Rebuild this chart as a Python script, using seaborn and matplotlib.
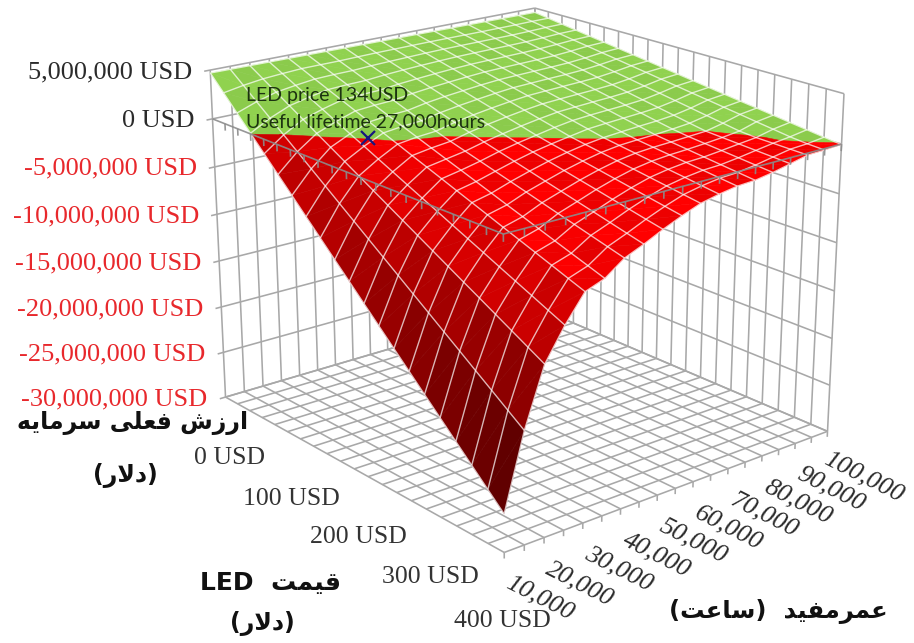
import numpy as np
import matplotlib
matplotlib.use("Agg")
import matplotlib.pyplot as plt
import seaborn as sns
from mpl_toolkits.mplot3d import proj3d
from mpl_toolkits.mplot3d.art3d import Poly3DCollection

# LED price grid (USD) and lifetime grid (hours)
led_price_usd = [0, 20, 40, 60, 80, 100, 120, 140, 160, 180, 200, 220, 240, 260, 280, 300, 320, 340, 360, 380, 400]
lifetime_hours = [10000, 15000, 20000, 25000, 30000, 35000, 40000, 45000, 50000, 55000,
                  60000, 65000, 70000, 75000, 80000, 85000, 90000, 95000, 100000]

# Present value (million USD) along the price grid, one list per lifetime
npv_10k = [4.70, 3.16, 1.61, 0.07, -1.48, -3.03, -4.57, -6.12, -7.66, -9.21, -10.75, -12.30, -13.84, -15.39, -16.93, -18.48, -20.02, -21.57, -23.11, -24.66, -26.20]
npv_15k = [4.69, 3.52, 2.34, 1.17, -0.01, -1.18, -2.36, -3.53, -4.71, -5.88, -7.06, -8.23, -9.40, -10.58, -11.75, -12.93, -14.10, -15.28, -16.45, -17.63, -18.80]
npv_20k = [4.68, 3.79, 2.90, 2.01, 1.12, 0.23, -0.65, -1.54, -2.43, -3.32, -4.21, -5.10, -5.99, -6.88, -7.77, -8.66, -9.54, -10.43, -11.32, -12.21, -13.10]
npv_25k = [4.67, 3.94, 3.20, 2.47, 1.74, 1.00, 0.27, -0.46, -1.20, -1.93, -2.67, -3.40, -4.13, -4.87, -5.60, -6.33, -7.07, -7.80, -8.53, -9.27, -10.00]
npv_30k = [4.66, 4.06, 3.45, 2.85, 2.25, 1.65, 1.04, 0.44, -0.16, -0.77, -1.37, -1.97, -2.58, -3.18, -3.78, -4.39, -4.99, -5.59, -6.19, -6.80, -7.40]
npv_35k = [4.65, 4.08, 3.52, 2.95, 2.38, 1.81, 1.25, 0.68, 0.11, -0.46, -1.03, -1.59, -2.16, -2.73, -3.30, -3.86, -4.43, -5.00, -5.57, -6.13, -6.70]
npv_40k = [4.64, 4.09, 3.55, 3.00, 2.46, 1.91, 1.36, 0.82, 0.27, -0.23, -0.69, -1.15, -1.61, -2.07, -2.53, -3.00, -3.46, -3.92, -4.38, -4.84, -5.30]
npv_45k = [4.63, 4.14, 3.66, 3.17, 2.68, 2.19, 1.71, 1.22, 0.73, 0.24, -0.21, -0.64, -1.07, -1.50, -1.93, -2.36, -2.79, -3.21, -3.64, -4.07, -4.50]
npv_50k = [4.62, 4.18, 3.73, 3.29, 2.84, 2.40, 1.96, 1.51, 1.07, 0.62, 0.18, -0.23, -0.60, -0.98, -1.35, -1.73, -2.10, -2.48, -2.85, -3.23, -3.60]
npv_55k = [4.61, 4.20, 3.79, 3.39, 2.98, 2.57, 2.16, 1.75, 1.35, 0.94, 0.53, 0.12, -0.23, -0.55, -0.87, -1.19, -1.51, -1.83, -2.16, -2.48, -2.80]
npv_60k = [4.60, 4.22, 3.85, 3.47, 3.10, 2.72, 2.35, 1.97, 1.60, 1.22, 0.84, 0.47, 0.09, -0.20, -0.47, -0.75, -1.02, -1.29, -1.56, -1.83, -2.10]
npv_65k = [4.59, 4.24, 3.89, 3.54, 3.19, 2.85, 2.50, 2.15, 1.80, 1.45, 1.10, 0.75, 0.40, 0.05, -0.21, -0.46, -0.71, -0.96, -1.20, -1.45, -1.70]
npv_70k = [4.58, 4.24, 3.91, 3.57, 3.23, 2.90, 2.56, 2.22, 1.89, 1.55, 1.21, 0.88, 0.54, 0.20, -0.09, -0.31, -0.53, -0.74, -0.96, -1.18, -1.40]
npv_75k = [4.57, 4.24, 3.92, 3.59, 3.26, 2.94, 2.61, 2.29, 1.96, 1.63, 1.31, 0.98, 0.65, 0.33, 0.00, -0.22, -0.43, -0.65, -0.87, -1.08, -1.30]
npv_80k = [4.56, 4.24, 3.93, 3.61, 3.29, 2.98, 2.66, 2.34, 2.03, 1.71, 1.39, 1.07, 0.76, 0.44, 0.13, -0.11, -0.29, -0.46, -0.64, -0.82, -1.00]
npv_85k = [4.55, 4.25, 3.94, 3.64, 3.34, 3.03, 2.73, 2.43, 2.12, 1.82, 1.52, 1.21, 0.91, 0.61, 0.30, 0.00, -0.12, -0.24, -0.36, -0.48, -0.60]
npv_90k = [4.54, 4.26, 3.98, 3.71, 3.43, 3.15, 2.87, 2.60, 2.32, 2.04, 1.76, 1.49, 1.21, 0.93, 0.65, 0.38, 0.10, -0.04, -0.09, -0.15, -0.20]
npv_95k = [4.53, 4.29, 4.04, 3.80, 3.55, 3.31, 3.06, 2.82, 2.57, 2.33, 2.08, 1.84, 1.59, 1.35, 1.10, 0.86, 0.61, 0.37, 0.12, -0.05, -0.15]
npv_100k = [4.52, 4.29, 4.06, 3.83, 3.60, 3.38, 3.15, 2.92, 2.69, 2.46, 2.23, 2.00, 1.77, 1.54, 1.31, 1.09, 0.86, 0.63, 0.40, 0.17, -0.05]

npv_ticks_musd = [5, 0, -5, -10, -15, -20, -25, -30]
npv_tick_labels = ["5,000,000 USD", "0 USD", "-5,000,000 USD", "-10,000,000 USD",
                   "-15,000,000 USD", "-20,000,000 USD", "-25,000,000 USD", "-30,000,000 USD"]
price_ticks = [0, 100, 200, 300, 400]
price_tick_labels = ["0 USD", "100 USD", "200 USD", "300 USD", "400 USD"]
lifetime_ticks = [10000, 20000, 30000, 40000, 50000, 60000, 70000, 80000, 90000, 100000]
lifetime_tick_labels = ["10,000", "20,000", "30,000", "40,000", "50,000",
                        "60,000", "70,000", "80,000", "90,000", "100,000"]
breakeven_price = 134
breakeven_life = 27000
breakeven_npv = 0


# Contextual letter forms (isolated, final, initial, medial); None marks a non-joining side
FORMS = {
    "ا": (0xFE8D, 0xFE8E, None, None), "د": (0xFEA9, 0xFEAA, None, None),
    "ر": (0xFEAD, 0xFEAE, None, None), "ز": (0xFEAF, 0xFEB0, None, None),
    "س": (0xFEB1, 0xFEB2, 0xFEB3, 0xFEB4), "ش": (0xFEB5, 0xFEB6, 0xFEB7, 0xFEB8),
    "ع": (0xFEC9, 0xFECA, 0xFECB, 0xFECC), "ف": (0xFED1, 0xFED2, 0xFED3, 0xFED4),
    "ق": (0xFED5, 0xFED6, 0xFED7, 0xFED8), "ل": (0xFEDD, 0xFEDE, 0xFEDF, 0xFEE0),
    "م": (0xFEE1, 0xFEE2, 0xFEE3, 0xFEE4), "ه": (0xFEE9, 0xFEEA, 0xFEEB, 0xFEEC),
    "ت": (0xFE95, 0xFE96, 0xFE97, 0xFE98), "ی": (0xFBFC, 0xFBFD, 0xFBFE, 0xFBFF),
}
MIRROR = {"(": ")", ")": "("}


def persian(text):
    """Shape Persian text and return it in display order for a left-to-right renderer."""
    out = []
    for i, ch in enumerate(text):
        if ch not in FORMS:
            out.append(MIRROR.get(ch, ch))
            continue
        prev = text[i - 1] if i else ""
        nxt = text[i + 1] if i + 1 < len(text) else ""
        join_prev = prev in FORMS and FORMS[prev][2] is not None
        join_next = nxt in FORMS and FORMS[ch][2] is not None
        iso, fin, ini, med = FORMS[ch]
        code = med if join_prev and join_next else fin if join_prev else ini if join_next else iso
        out.append(chr(code))
    shaped = "".join(out).replace("\uFEDF\uFE8E", "\uFEFB").replace("\uFEE0\uFE8E", "\uFEFC")
    return shaped[::-1]


def clip_triangle(tri, sign):
    """Keep the part of a triangle lying on one side of the zero-value plane."""
    kept = []
    for k in range(3):
        a, b = tri[k], tri[(k + 1) % 3]
        da, db = sign * a[2], sign * b[2]
        if da >= 0:
            kept.append(a)
        if da * db < 0:
            kept.append(a + (b - a) * da / (da - db))
    return kept


sns.set_theme(style="white")
SERIF = "Liberation Serif"
GRID = "#a8a8a8"

fig = plt.figure(figsize=(9.14, 6.43), dpi=100)
ax = fig.add_axes([164.22 / 914, 34.03 / 643, 695.07 / 914, 695.07 / 643], projection="3d")
ax.set_xlim(0, 400, view_margin=0)
ax.set_ylim(10000, 100000, view_margin=0)
ax.set_zlim(-30, 5, view_margin=0)
ax.view_init(elev=19.3641, azim=-39.5464)
ax.set_box_aspect((1.1787, 1.0738, 0.9))
ax.set_proj_type("persp", focal_length=0.6043)
ax.set_axis_off()
ax.computed_zorder = False

price = np.array(led_price_usd, float)
life = np.array(lifetime_hours, float)
npv = np.array([npv_10k, npv_15k, npv_20k, npv_25k, npv_30k, npv_35k, npv_40k, npv_45k, npv_50k, npv_55k,
                npv_60k, npv_65k, npv_70k, npv_75k, npv_80k, npv_85k, npv_90k, npv_95k, npv_100k]).T


def line3d(x, y, z, **kw):
    ax.plot(x, y, z, solid_capstyle="butt", **kw)


# Back walls and floor
wall = dict(color=GRID, lw=1.15, zorder=1)
for p in price:
    line3d([p, p], [life[0], life[-1]], [-30, -30], **wall)
    line3d([p, p], [life[-1], life[-1]], [-30, 5], **wall)
for h in life:
    line3d([0, 400], [h, h], [-30, -30], **wall)
    line3d([0, 0], [h, h], [-30, 5], **wall)
    line3d([400, 400], [h, h], [-30, -30.6], **wall)
for z in npv_ticks_musd:
    line3d([0, 0], [life[0] - 1500, life[-1]], [z, z], **wall)
    line3d([0, 400], [life[-1], life[-1]], [z, z], **wall)

# Surface facets: flat lighting per grid cell, split exactly along the zero contour
nr, nc = npv.shape
step_life = np.abs(np.diff(npv, axis=1))
step_price = np.abs(np.diff(npv, axis=0))
slope_life = (step_life[:-1, :] + step_life[1:, :]) / 2
slope_price = (step_price[:, :-1] + step_price[:, 1:]) / 2
light = np.clip(1.15 - 0.10 * slope_life - 0.16 * slope_price, 0, 1)
red_ramp = sns.blend_palette(["#3c0000", "#ff0000"], as_cmap=True)
green_ramp = sns.blend_palette(["#74ad3c", "#90d24f"], as_cmap=True)

polys, colors = [], []
for i in range(nr - 1):
    for j in range(nc - 1):
        corners = [np.array([price[a], life[b], npv[a, b]])
                   for a, b in ((i, j), (i + 1, j), (i + 1, j + 1), (i, j + 1))]
        check = (i + j) % 2
        red = red_ramp(light[i, j] * (1 - 0.09 * check))
        green = green_ramp(1 - 0.18 * check)
        for tri in ((corners[0], corners[1], corners[2]), (corners[0], corners[2], corners[3])):
            for sign, col in ((1, green), (-1, red)):
                part = clip_triangle(tri, sign)
                if len(part) >= 3:
                    polys.append(np.array(part))
                    colors.append(col)

ax.add_collection3d(Poly3DCollection(polys, facecolors=colors, edgecolors=colors, linewidths=0.4, zorder=2),
                    autolim=False)

# Mesh lines on the surface
mesh = dict(color="#ffffff", lw=1.0, alpha=0.7, zorder=3)
for i, p in enumerate(price):
    line3d(np.full(nc, p), life, npv[i], **mesh)
for j, h in enumerate(life):
    line3d(price, np.full(nr, h), npv[:, j], **mesh)

# Category axes crossing at zero value, with hanging tick marks
axis_line = dict(color="#8c8c8c", lw=1.2, alpha=0.9, zorder=4)
line3d([0, 400, 400], [life[0], life[0], life[-1]], [0, 0, 0], **axis_line)
for p in price[1:]:
    line3d([p, p], [life[0], life[0]], [0, -0.7], **axis_line)
for h in life[1:]:
    line3d([400, 400], [h, h], [0, -0.7], **axis_line)

# Break-even marker
ax.plot([breakeven_price], [breakeven_life], [breakeven_npv], marker="x", color="#17177f",
        ms=10, mew=1.6, ls="none", zorder=5)

M = ax.get_proj()


def label3d(text, x, y, z, dx, dy, **kw):
    xp, yp, _ = proj3d.proj_transform(x, y, z, M)
    ax.annotate(text, xy=(xp, yp), xycoords="data", xytext=(dx, dy), textcoords="offset pixels",
                annotation_clip=False, **kw)


for z, text in zip(npv_ticks_musd, npv_tick_labels):
    label3d(text, 0, life[0], z, -18, -2, ha="right", va="center", family=SERIF, fontsize=19,
            color="#e8282c" if z < 0 else "#2b2b2b")

for p, text, dx, dy in zip(price_ticks, price_tick_labels, [4, 4, 4, 4, -2], [-61, -67, -68, -68, -69]):
    label3d(text, p, life[0], -30, dx, dy, ha="center", va="center", family=SERIF, fontsize=18.5,
            color="#333333")

for h, text in zip(lifetime_ticks, lifetime_tick_labels):
    label3d(text, 400, h, -30, 36, -46, ha="center", va="center", family=SERIF, style="italic",
            fontsize=19, rotation=-27, rotation_mode="anchor", color="#2b2b2b")

note = dict(ha="left", va="center", family="Lato", fontsize=14, color="#1c3310")
label3d("LED price 134USD", breakeven_price, breakeven_life, breakeven_npv, -122, 43, **note)
label3d("Useful lifetime 27,000hours", breakeven_price, breakeven_life, breakeven_npv, -122, 16, **note)

title = dict(ha="center", va="center", family="DejaVu Sans", weight="bold", color="#111111")
fig.text(133 / 914, 1 - 423 / 643, persian("ارزش فعلی سرمایه"), fontsize=17, **title)
fig.text(125 / 914, 1 - 476 / 643, persian("(دلار)"), fontsize=17, **title)
fig.text(271 / 914, 1 - 583 / 643, "LED  " + persian("قیمت"), fontsize=18, **title)
fig.text(262 / 914, 1 - 623 / 643, persian("(دلار)"), fontsize=17, **title)
fig.text(778 / 914, 1 - 611 / 643, persian("عمرمفید  (ساعت)"), fontsize=17.5, **title)

fig.savefig("out.png", dpi=100, facecolor="white")
